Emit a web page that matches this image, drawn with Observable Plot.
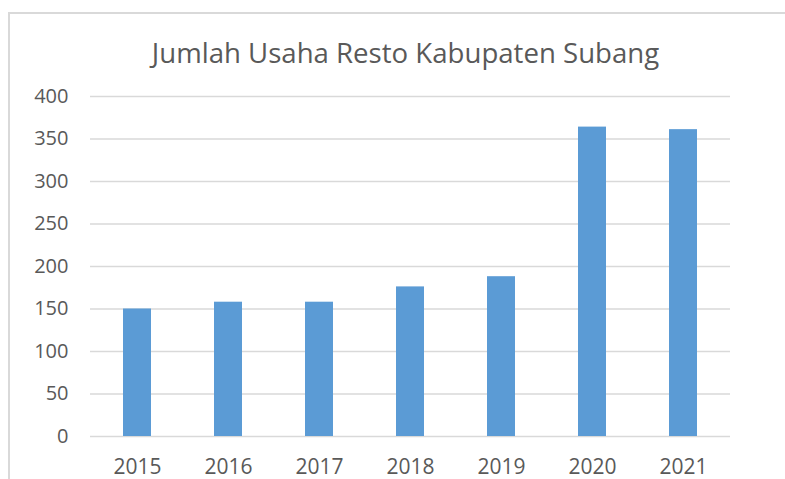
<!DOCTYPE html>
<html>
<head>
<meta charset="utf-8">
<script src="https://cdn.jsdelivr.net/npm/d3@7"></script>
<script src="https://cdn.jsdelivr.net/npm/@observablehq/plot@0.6"></script>
<style>
  html, body { margin: 0; padding: 0; background: #fff; }
  #wrap { position: relative; width: 785px; height: 479px; overflow: hidden; }
  #border { position: absolute; left: 8px; top: 12px; width: 800px; height: 500px; border-left: 2px solid #d9d9d9; border-top: 2px solid #d9d9d9; }
  #chart { position: absolute; left: 0; top: 0; }
</style>
</head>
<body>
<div id="wrap"><div id="border"></div><div id="chart"></div></div>
<script>
const titleText = "Jumlah Usaha Resto Kabupaten Subang";
const years = ["2015", "2016", "2017", "2018", "2019", "2020", "2021"];
const values = [150, 158, 158, 176, 188, 364, 361];
const yTicks = [0, 50, 100, 150, 200, 250, 300, 350, 400];

const data = years.map((y, i) => ({year: y, value: values[i]}));

const plot = Plot.plot({
  width: 785,
  height: 479,
  marginLeft: 90,
  marginRight: 55,
  marginTop: 96,
  marginBottom: 43,
  style: {fontFamily: "'Open Sans', sans-serif", fontSize: "20px", color: "#595959", background: "transparent"},
  x: {domain: years, paddingInner: 0.69, paddingOuter: 0.345, label: null},
  y: {domain: [0, 400], label: null},
  marks: [
    Plot.gridY(yTicks, {stroke: "#d9d9d9", strokeOpacity: 1, strokeWidth: 1.5}),
    Plot.barY(data, {x: "year", y: "value", fill: "#5b9bd5"}),
    Plot.axisY(yTicks, {tickSize: 0, tickPadding: 22, label: null, fontSize: 20, fill: "#595959"}),
    Plot.axisX({tickSize: 0, tickPadding: 23, label: null, fontSize: 21, fill: "#595959"}),
    Plot.text([titleText], {frameAnchor: "top", dx: -5, dy: -34, lineAnchor: "bottom", fontSize: 27.6, fill: "#595959"})
  ]
});
document.getElementById("chart").appendChild(plot);
</script>
</body>
</html>
